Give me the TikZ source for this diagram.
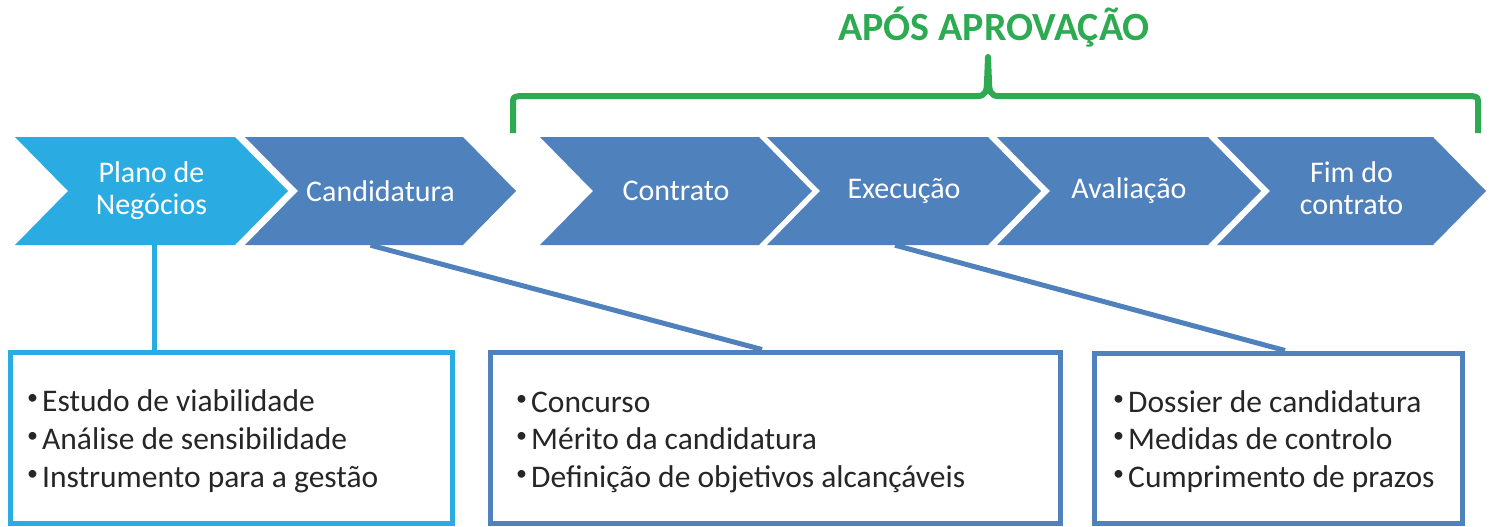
\documentclass[tikz,border=0pt]{standalone}
\usepackage{fontspec}
\setmainfont{Carlito}
\definecolor{lblue}{HTML}{2AACE2}
\definecolor{dblue}{HTML}{4F81BD}
\definecolor{grn}{HTML}{2EAA52}
\definecolor{txt}{HTML}{262626}
\newcommand\chevfont{\fontsize{30}{32}\selectfont}
\newcommand\itemfont{\fontsize{31.5}{38}\selectfont}
\newcommand\bul{\makebox[15pt][l]{\fontsize{22}{22}\selectfont\raisebox{7pt}{•}}}
\tikzset{
  chev/.style n args={2}{minimum height=108pt, minimum width=#1, inner sep=0pt,
    text=white, align=center, font=\chevfont,
    path picture={\fill[#2] (path picture bounding box.north west)
      -- ([xshift=-53pt]path picture bounding box.north east)
      -- (path picture bounding box.east)
      -- ([xshift=-53pt]path picture bounding box.south east)
      -- (path picture bounding box.south west)
      -- ([xshift=53pt]path picture bounding box.west) -- cycle;}},
  listbox/.style={draw=#1, line width=5pt, fill=white, inner sep=0pt, minimum height=171pt},
  item/.style={anchor=base west, inner sep=0pt, text=txt, font=\itemfont},
  conn/.style={line width=5pt, draw=#1},
  titlefont/.style={font=\fontsize{40}{40}\selectfont\bfseries, text=grn, inner sep=0pt}
}
\begin{document}
\begin{tikzpicture}[x=1pt,y=-1pt]
\useasboundingbox (0,0) rectangle (1493,527);
% title and bracket
\node[titlefont, anchor=base] (title) at (994,41) {APÓS APROVAÇÃO};
\draw[grn, line width=6pt, line join=round]
  (513,133) -- (513,104) .. controls (513,97) .. (520,96) -- (978,96)
  .. controls (985,96) and (987,91) .. (987,82) -- (988,57) -- (989,82)
  .. controls (989,91) and (991,96) .. (998,96) -- (1471,96)
  .. controls (1478,97) .. (1478,104) -- (1478,133);
% chevrons
\node[chev={273pt}{lblue}] (c1) at (151.5,191) {Plano de\\Negócios};
\node[chev={271pt}{dblue}] (c2) at (380.5,191) {Candidatura};
\node[chev={272pt}{dblue}] (c3) at (676,191) {Contrato};
\node[chev={274pt}{dblue}] (c4) at (904,191) {Execução};
\node[chev={264pt}{dblue}] (c5) at (1129,191) {Avaliação};
\node[chev={269pt}{dblue}] (c6) at (1351.5,191) {Fim do\\contrato\vphantom{g}};
% boxes
\node[listbox=lblue, minimum width=442pt] (b1) at (231,437.5) {};
\node[listbox=dblue, minimum width=570pt] (b2) at (775,437.5) {};
\node[listbox=dblue, minimum width=368pt, minimum height=170pt] (b3) at (1278,438) {};
% connectors
\draw[conn=lblue] ([xshift=3pt]c1.south) -- ([xshift=3pt]c1.south |- b1.north);
\draw[conn=dblue] ([xshift=-10pt]c2.south) -- ([xshift=-13pt]b2.north);
\draw[conn=dblue] ([xshift=-9pt]c4.south) -- ([xshift=7pt]b3.north);
% items
\node[item] (i11) at (27,411) {\bul Estudo de viabilidade};
\node[item] (i12) at (27,449) {\bul Análise de sensibilidade};
\node[item] (i13) at (27,487) {\bul Instrumento para a gestão};
\node[item] (i21) at (516,412) {\bul Concurso};
\node[item] (i22) at (516,449) {\bul Mérito da candidatura};
\node[item] (i23) at (516,487) {\bul Definição de objetivos alcançáveis};
\node[item] (i31) at (1113,412) {\bul Dossier de candidatura};
\node[item] (i32) at (1113,449) {\bul Medidas de controlo};
\node[item] (i33) at (1113,487) {\bul Cumprimento de prazos};
\end{tikzpicture}
\end{document}
